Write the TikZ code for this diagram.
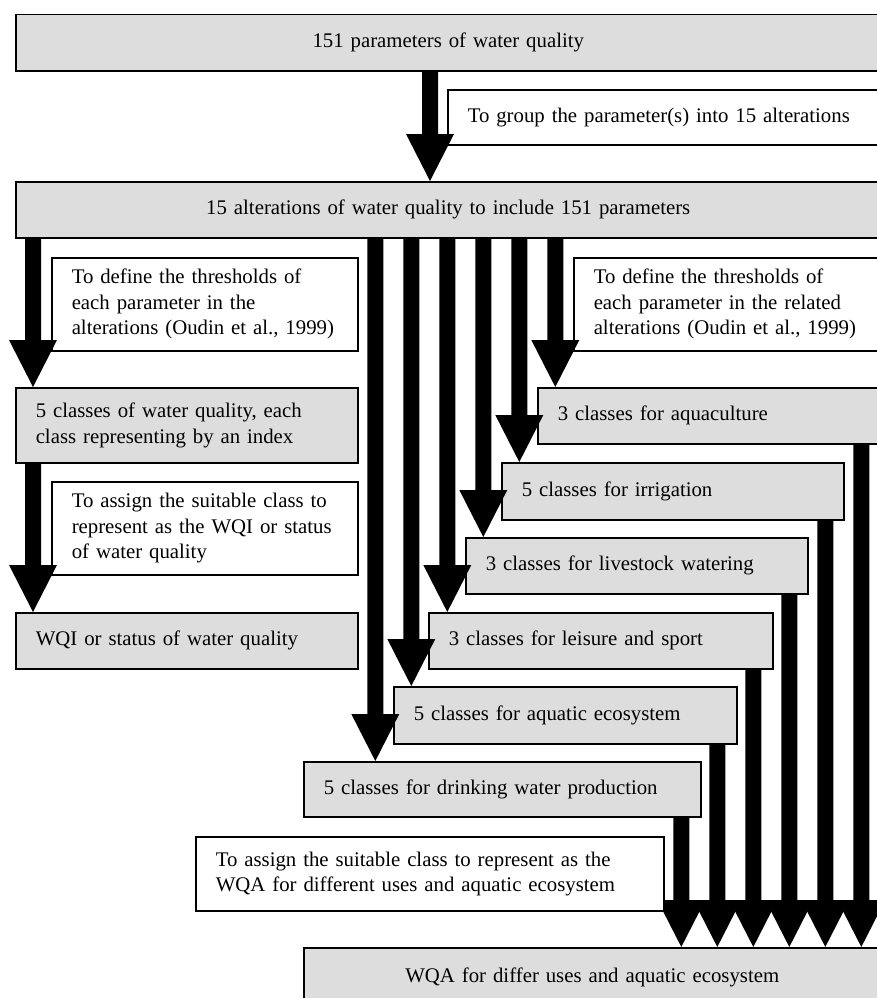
\documentclass[tikz,border=0pt]{standalone}
\usepackage{fontspec}
\setmainfont{Liberation Serif}
\usetikzlibrary{calc}
\definecolor{boxgray}{RGB}{221,221,221}
\newcommand\lines[1]{\begin{tabular}{@{}l@{}}#1\end{tabular}}
\tikzset{
  base/.style={draw=black, line width=1.5pt, inner xsep=20pt, inner ysep=0pt,
    anchor=north west, font=\fontsize{20.8}{25.5}\selectfont},
  gbox/.style={base, fill=boxgray, align=left},
  wbox/.style={base, fill=white, align=left},
  cbox/.style={base, fill=boxgray, align=center},
}
\newcommand\blockarrow[3]{%
  \fill[black] let \p1=(#2.south -| #1), \p2=(#3.north -| #1) in
    (\x1-8pt,\y1) -- (\x1+8pt,\y1) -- (\x1+8pt,\y2+47pt) -- (\x1+24pt,\y2+47pt)
    -- (\x1,\y2) -- (\x1-24pt,\y2+47pt) -- (\x1-8pt,\y2+47pt) -- cycle;}
\begin{document}
\begin{tikzpicture}[x=1pt,y=-1pt]
\useasboundingbox (0,0) rectangle (877,998);
\clip (0,0) rectangle (877,998);
% main column
\node[cbox, text width=825pt, minimum height=56pt] (top) at (15,14) {151 parameters of water quality};
\node[wbox, text width=393pt, minimum height=55pt] (labT) at (447,89) {\lines{To group the parameter(s) into 15 alterations}};
\node[cbox, text width=825pt, minimum height=56pt] (alt) at (15,181) {15 alterations of water quality to include 151 parameters};
% left column
\node[wbox, text width=266pt, minimum height=93pt] (labL1) at (51,257) {\lines{To define the thresholds of\\each parameter in the\\alterations (Oudin et al., 1999)}};
\node[gbox, text width=302pt, minimum height=75pt] (cls) at (15,387) {\lines{5 classes of water quality, each\\class representing by an index}};
\node[wbox, text width=266pt, minimum height=93pt] (labL2) at (51,481) {\lines{To assign the suitable class to\\represent as the WQI or status\\of water quality}};
\node[gbox, text width=302pt, minimum height=56pt] (wqi) at (15,612) {\lines{WQI or status of water quality}};
% right side
\node[wbox, text width=267pt, minimum height=93pt] (labR) at (573,257) {\lines{To define the thresholds of\\each parameter in the related\\alterations (Oudin et al., 1999)}};
\node[gbox, text width=303pt, minimum height=56pt] (aqua) at (537,387) {\lines{3 classes for aquaculture}};
\node[gbox, text width=302pt, minimum height=57pt] (irr) at (501,462) {\lines{5 classes for irrigation}};
\node[gbox, text width=302pt, minimum height=56pt] (live) at (465,537) {\lines{3 classes for livestock watering}};
\node[gbox, text width=304pt, minimum height=56pt] (leis) at (428,612) {\lines{3 classes for leisure and sport}};
\node[gbox, text width=303pt, minimum height=57pt] (aqeco) at (393,686) {\lines{5 classes for aquatic ecosystem}};
\node[gbox, text width=357pt, minimum height=55pt] (drink) at (303,761) {\lines{5 classes for drinking water production}};
\node[cbox, text width=537pt, minimum height=60pt] (wqa) at (303,947) {WQA for differ uses and aquatic ecosystem};
% x positions of the arrows
\coordinate (xT) at (430,0);
\coordinate (xL) at (33,0);
\coordinate (d1) at (375.3,0);
\coordinate (d2) at (411.3,0);
\coordinate (d3) at (447.3,0);
\coordinate (d4) at (483.3,0);
\coordinate (d5) at (519.3,0);
\coordinate (d6) at (555.3,0);
\coordinate (u1) at (681.3,0);
\coordinate (u2) at (717.3,0);
\coordinate (u3) at (753.3,0);
\coordinate (u4) at (789.3,0);
\coordinate (u5) at (825.3,0);
\coordinate (u6) at (861.3,0);
% arrows
\blockarrow{xT}{top}{alt}
\blockarrow{xL}{alt}{cls}
\blockarrow{xL}{cls}{wqi}
\blockarrow{d6}{alt}{aqua}
\blockarrow{d5}{alt}{irr}
\blockarrow{d4}{alt}{live}
\blockarrow{d3}{alt}{leis}
\blockarrow{d2}{alt}{aqeco}
\blockarrow{d1}{alt}{drink}
\blockarrow{u1}{drink}{wqa}
\blockarrow{u2}{aqeco}{wqa}
\blockarrow{u3}{leis}{wqa}
\blockarrow{u4}{live}{wqa}
\blockarrow{u5}{irr}{wqa}
\blockarrow{u6}{aqua}{wqa}
% bottom label (drawn over the first head)
\node[wbox, text width=428pt, minimum height=74pt] (labB) at (195,836) {\lines{To assign the suitable class to represent as the\\WQA for different uses and aquatic ecosystem}};
\end{tikzpicture}
\end{document}
